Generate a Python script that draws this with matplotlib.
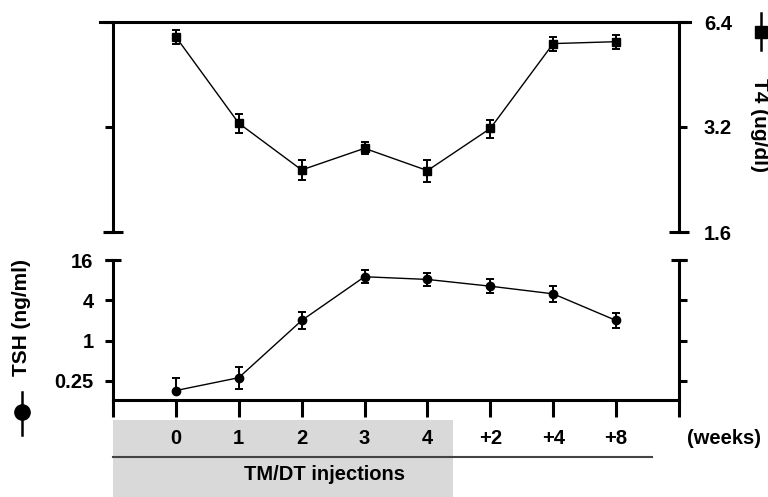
import matplotlib
matplotlib.use("Agg")
from matplotlib import pyplot as plt
from matplotlib.lines import Line2D
from matplotlib.patches import Rectangle
from matplotlib.ticker import NullLocator

plt.rcParams['font.family'] = ['Liberation Sans', 'DejaVu Sans']
plt.rcParams['font.weight'] = 'bold'

# time points (weeks), evenly spaced on the axis
x = range(0, 8)
x_str = ['0', '1', '2', '3', '4', '+2', '+4', '+8']

# T4 (ug/dl), top panel
T4 = [5.8, 3.28, 2.41, 2.78, 2.40, 3.17, 5.55, 5.62]
T4_err = [0.27, 0.20, 0.16, 0.11, 0.18, 0.19, 0.25, 0.26]

# TSH (ng/ml), bottom panel
TSH = [0.18, 0.28, 2.0, 9.0, 8.2, 6.5, 5.0, 2.0]
TSH_err_lo = [0.0, 0.087, 0.5, 1.7, 1.7, 1.4, 1.2, 0.46]
TSH_err_hi = [0.10, 0.12, 0.66, 2.2, 2.1, 1.7, 1.6, 0.6]

t4_ticks = [1.6, 3.2, 6.4]
tsh_ticks = [0.25, 1, 4, 16]

W, H = 768, 497
fig = plt.figure(figsize=(W / 100, H / 100), dpi=100)

ax_top = fig.add_axes([113 / W, 1 - 232 / H, 566 / W, 210 / H])
ax_bot = fig.add_axes([113 / W, 1 - 400 / H, 566 / W, 140 / H])

lw_sp = 2.2
fs = 14.5

# ---- top panel: T4
ax_top.errorbar(x, T4, yerr=T4_err, fmt='-s', color='black', ms=6, lw=1,
                elinewidth=1.4, capsize=3.2, capthick=1.4)
ax_top.set_yscale('log', base=2)
ax_top.set_ylim(1.6, 6.4)
ax_top.set_xlim(-1, 8)
ax_top.set_yticks(t4_ticks)
ax_top.set_yticklabels(['1.6', '3.2', '6.4'])
ax_top.yaxis.set_minor_locator(NullLocator())
ax_top.set_xticks([])
ax_top.tick_params(axis='y', left=True, right=True, labelleft=False, labelright=True,
                   direction='out', length=6, width=lw_sp, labelsize=fs, pad=12)
for s in ['top', 'bottom']:
    ax_top.spines[s].set_visible(False)
for s in ['left', 'right']:
    ax_top.spines[s].set_linewidth(lw_sp)
# end caps at bottom of spines
ax_top.plot([0, 1], [1.6, 1.6], ls='none', marker='_', ms=14, mew=lw_sp, color='black',
            transform=ax_top.get_yaxis_transform(), clip_on=False)
# long line across the top
fig.add_artist(Line2D([100 / W, 690 / W], [1 - 22 / H, 1 - 22 / H], color='black',
                      lw=lw_sp, transform=fig.transFigure))

# ---- bottom panel: TSH
ax_bot.errorbar(x, TSH, yerr=[TSH_err_lo, TSH_err_hi], fmt='-o', color='black', ms=6, lw=1,
                elinewidth=1.4, capsize=3.2, capthick=1.4)
ax_bot.set_yscale('log', base=2)
ax_bot.set_ylim(0.13, 16)
ax_bot.set_xlim(-1, 8)
ax_bot.set_yticks(tsh_ticks)
ax_bot.set_yticklabels(['0.25', '1', '4', '16'])
ax_bot.yaxis.set_minor_locator(NullLocator())
ax_bot.tick_params(axis='y', left=True, right=True, labelleft=True, labelright=False,
                   direction='out', length=6, width=lw_sp, labelsize=fs, pad=8)
ax_bot.set_xticks(range(-1, 9))
ax_bot.set_xticklabels([''] + x_str + [''])
ax_bot.tick_params(axis='x', direction='out', length=12, width=lw_sp, labelsize=fs, pad=9)
ax_bot.spines['top'].set_visible(False)
for s in ['left', 'right', 'bottom']:
    ax_bot.spines[s].set_linewidth(lw_sp)
ax_bot.plot([0, 1], [16, 16], ls='none', marker='_', ms=12, mew=lw_sp, color='black',
            transform=ax_bot.get_yaxis_transform(), clip_on=False)

# grey injection box, bar and labels under the x axis
tr = ax_bot.get_xaxis_transform()
ax_bot.add_patch(Rectangle((-1, -97 / 140), 5.41, 77 / 140, facecolor='#d9d9d9',
                           edgecolor='none', transform=tr, clip_on=False, zorder=0))
ax_bot.plot([-1, 7.57], [-57 / 140, -57 / 140], color='#444444', lw=1.5,
            transform=tr, clip_on=False)
ax_bot.text(2.37, -75 / 140, 'TM/DT injections', transform=tr, ha='center', va='center',
            fontsize=fs, fontweight='bold')
ax_bot.text(8.72, -39 / 140, '(weeks)', transform=tr, ha='center', va='center',
            fontsize=fs, fontweight='bold')

# axis titles with their symbols
fig.text(22 / W, 1 - 318 / H, 'TSH (ng/ml)', rotation=90, ha='center', va='center',
         fontsize=15, fontweight='bold')
fig.add_artist(Line2D([22 / W] * 3, [1 - 392 / H, 1 - 412 / H, 1 - 435 / H], color='black',
                      lw=1.8, marker='o', ms=11, markevery=[1], transform=fig.transFigure))
fig.text(760 / W, 1 - 125 / H, 'T4 (ug/dl)', rotation=270, ha='center', va='center',
         fontsize=15, fontweight='bold')
fig.add_artist(Line2D([761 / W] * 3, [1 - 13 / H, 1 - 32 / H, 1 - 50 / H], color='black',
                      lw=1.8, marker='s', ms=9, markevery=[1], transform=fig.transFigure))

fig.savefig('out.png', dpi=100)
